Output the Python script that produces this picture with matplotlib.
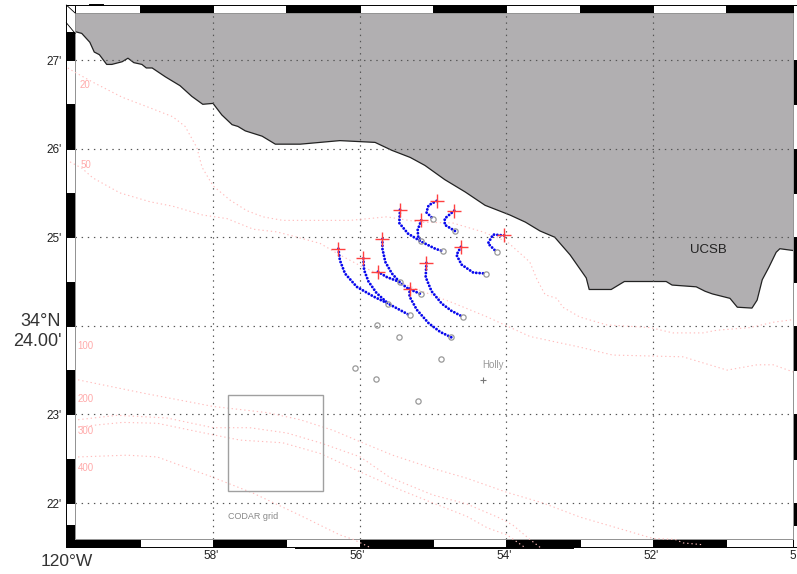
import matplotlib
matplotlib.use("Agg")
import matplotlib.pyplot as plt
from matplotlib.patches import Rectangle

plt.rcParams['font.family'] = ['Liberation Sans', 'DejaVu Sans']

# --------------------------
# DATA (lon = minutes west of 120W, lat = minutes north of 34N)
# --------------------------
coast_lon = [59.88, 59.79, 59.68, 59.62, 59.55, 59.45, 59.38, 59.24, 59.16, 59.08, 58.97, 58.91, 58.83, 58.65,
             58.45, 58.29, 58.14, 58.00, 57.88, 57.74, 57.66, 57.56, 57.33, 57.15, 56.81, 56.27, 55.79, 55.56,
             55.31, 55.11, 54.84, 54.56, 54.29, 53.95, 53.74, 53.54, 53.34, 53.13, 52.91, 52.87, 52.57, 52.39,
             51.82, 51.74, 51.41, 51.29, 51.19, 50.95, 50.85, 50.65, 50.58, 50.51, 50.42, 50.32, 50.27, 50.09]
coast_lat = [27.32, 27.30, 27.20, 27.09, 27.06, 26.95, 26.95, 26.98, 27.02, 26.97, 26.95, 26.91, 26.91, 26.81,
             26.71, 26.59, 26.50, 26.51, 26.38, 26.27, 26.25, 26.20, 26.14, 26.05, 26.05, 26.09, 26.07, 25.98,
             25.90, 25.81, 25.65, 25.51, 25.36, 25.25, 25.17, 25.07, 25.00, 24.80, 24.54, 24.41, 24.41, 24.50,
             24.50, 24.46, 24.44, 24.39, 24.36, 24.31, 24.21, 24.20, 24.29, 24.52, 24.66, 24.83, 24.87, 24.85]

iso_a_lon = [59.98, 59.88, 59.64, 59.24, 58.86, 58.55, 58.38, 58.22, 58.15, 58.00, 57.77, 57.54, 57.32, 57.05,
             56.64, 56.13, 55.63, 55.18, 54.73, 54.32, 53.99, 53.68, 53.58, 53.47, 53.31, 53.23, 53.00, 52.63,
             52.04, 51.73, 51.32, 51.13, 50.68, 50.36, 50.09]
iso_a_lat = [26.91, 26.86, 26.75, 26.58, 26.46, 26.36, 26.25, 26.01, 25.79, 25.58, 25.42, 25.30, 25.23, 25.19,
             25.19, 25.19, 25.23, 25.17, 25.16, 25.06, 24.95, 24.72, 24.52, 24.35, 24.31, 24.21, 24.10, 24.01,
             23.98, 23.92, 23.92, 23.95, 23.98, 24.04, 24.07]
iso_b_lon = [59.95, 59.79, 59.64, 59.27, 58.86, 58.55, 58.14, 57.81, 57.45, 57.13, 56.85, 56.54, 56.27, 55.95,
             55.63, 55.18, 54.73, 54.26, 53.68, 53.00, 52.55, 51.59, 50.99, 50.58, 50.36, 50.09]
iso_b_lat = [25.85, 25.78, 25.67, 25.50, 25.40, 25.35, 25.25, 25.21, 25.09, 25.06, 25.00, 24.93, 24.80, 24.66,
             24.55, 24.40, 24.26, 24.10, 23.88, 23.76, 23.67, 23.65, 23.50, 23.56, 23.56, 23.48]
iso_c_lon = [59.84, 58.95, 58.00, 57.26, 56.81, 56.36, 55.99, 55.55, 55.00, 54.54, 53.99, 53.50, 52.99, 52.41,
             52.00, 51.70, 51.59, 51.33]
iso_c_lat = [23.39, 23.24, 23.09, 23.02, 22.94, 22.82, 22.69, 22.54, 22.39, 22.28, 22.12, 22.00, 21.84, 21.70,
             21.60, 21.59, 21.55, 21.53]
iso_d_lon = [59.84, 59.31, 58.63, 58.00, 57.50, 56.99, 56.54, 55.99, 55.59, 55.00, 54.54, 54.09, 53.91, 53.68, 53.54]
iso_d_lat = [22.94, 22.99, 22.96, 22.85, 22.85, 22.79, 22.68, 22.52, 22.29, 22.09, 21.99, 21.83, 21.75, 21.59, 21.50]
iso_e_lon = [59.84, 59.23, 58.76, 58.00, 57.63, 57.05, 56.54, 55.99, 55.45, 55.00, 54.54, 54.26, 53.99, 53.75]
iso_e_lat = [22.86, 22.91, 22.90, 22.77, 22.71, 22.68, 22.56, 22.35, 22.15, 22.00, 21.85, 21.72, 21.64, 21.50]
iso_f_lon = [59.84, 59.17, 58.76, 58.00, 57.45, 56.81, 56.27, 56.09, 55.86]
iso_f_lat = [22.52, 22.54, 22.52, 22.29, 22.11, 21.86, 21.64, 21.59, 21.50]

iso_labels = ["20", "50", "100", "200", "300", "400"]
iso_label_lat = [26.72, 25.81, 23.77, 23.17, 22.81, 22.40]

# drifter tracks, first point is the release (red +), last is the gray circle
track_lons = [
    [56.29, 56.27, 56.20, 56.04, 55.81, 55.61, 55.32],
    [55.95, 55.94, 55.88, 55.77, 55.61],
    [55.69, 55.69, 55.65, 55.56, 55.45],
    [55.75, 55.63, 55.47, 55.34, 55.17],
    [55.32, 55.32, 55.22, 55.06, 54.90, 54.75],
    [55.09, 55.10, 55.02, 54.88, 54.75, 54.59],
    [55.45, 55.46, 55.34, 55.16, 54.97, 54.86],
    [55.16, 55.21, 55.20, 55.16],
    [54.95, 55.06, 55.09, 55.00],
    [54.71, 54.84, 54.84, 54.70],
    [54.62, 54.68, 54.61, 54.45, 54.28],
    [54.03, 54.18, 54.25, 54.13],
]
track_lats = [
    [24.87, 24.74, 24.59, 24.44, 24.33, 24.25, 24.12],
    [24.76, 24.63, 24.50, 24.37, 24.25],
    [24.98, 24.87, 24.72, 24.59, 24.49],
    [24.61, 24.55, 24.50, 24.42, 24.36],
    [24.42, 24.33, 24.18, 24.03, 23.93, 23.87],
    [24.71, 24.55, 24.39, 24.25, 24.17, 24.10],
    [25.31, 25.16, 25.04, 24.95, 24.87, 24.84],
    [25.19, 25.08, 24.99, 24.96],
    [25.41, 25.36, 25.28, 25.21],
    [25.30, 25.21, 25.14, 25.07],
    [24.89, 24.80, 24.69, 24.60, 24.59],
    [25.02, 25.03, 24.93, 24.83],
]

# gray circles without a track
other_lon = [55.76, 55.46, 54.89, 56.07, 55.78, 55.20]
other_lat = [24.01, 23.87, 23.63, 23.52, 23.40, 23.15]

lon_ticks = [58, 56, 54, 52]
lon_tick_labels = ["58'", "56'", "54'", "52'"]
lat_ticks = [27, 26, 25, 23, 22]
lat_tick_labels = ["27'", "26'", "25'", "23'", "22'"]

bottom_black = [(60, 59), (58, 57), (56, 55), (54, 53), (52, 51)]
top_black = [(59, 58), (57, 56), (55, 54), (53, 52), (51, 50.09)]
left_black = [(21.5, 21.75), (22, 22.5), (23, 23.5), (24, 24.5), (25, 25.5), (26, 26.5), (27, 27.32)]
right_black = [(21.75, 22), (22.5, 23), (23.5, 24), (24.5, 25), (25.5, 26), (26.5, 27)]

# --------------------------
# MAP LIMITS
# --------------------------
W, E = 59.88, 50.09
S, N = 21.59, 27.53
OUT_W, OUT_E = 60.0, 49.9
OUT_S, OUT_N = 21.50, 27.62

fig = plt.figure(figsize=(7.97, 5.74), dpi=100)
ax = fig.add_axes([0, 0, 1, 1])
ax.set_xlim(60.905, 50.036)
ax.set_ylim(21.199, 27.677)
ax.axis("off")

# --------------------------
# LAND
# --------------------------
ax.fill(coast_lon + [E, W], coast_lat + [N, N], color="#b1afb1", lw=0, zorder=1)
ax.plot(coast_lon, coast_lat, color="#222222", lw=0.9, zorder=2)

# --------------------------
# GRID
# --------------------------
for lon in lon_ticks:
    ax.plot([lon, lon], [S, N], color="#555555", lw=0.85, ls=(0, (1.2, 4.0)), zorder=3)
for lat in [27, 26, 25, 24, 23, 22]:
    ax.plot([W, E], [lat, lat], color="#555555", lw=0.85, ls=(0, (1.2, 4.0)), zorder=3)

# --------------------------
# FRAME
# --------------------------
def box(x0, x1, y0, y1, color, z=5):
    ax.add_patch(Rectangle((x0, y0), x1 - x0, y1 - y0, facecolor=color, edgecolor="black", lw=0.7, zorder=z))

box(OUT_W, OUT_E, OUT_S, S, "white")
box(OUT_W, OUT_E, N, OUT_N, "white")
box(OUT_W, W, OUT_S, OUT_N, "white")
box(E, OUT_E, OUT_S, OUT_N, "white")
for a, b in bottom_black:
    box(a, b, OUT_S, S, "black", 6)
for a, b in top_black:
    box(a, b, N, OUT_N, "black", 6)
for a, b in left_black:
    box(OUT_W, W, a, b, "black", 6)
for a, b in right_black:
    box(E, OUT_E, a, b, "black", 6)
ax.plot([W, W, E, E, W], [S, N, N, S, S], color="#999999", lw=0.7, zorder=7)
ax.plot([OUT_W, W], [OUT_N, N], color="black", lw=0.6, zorder=7)
ax.plot([OUT_W, W], [27.42, 27.30], color="black", lw=0.6, zorder=7)
ax.plot([59.68, 59.50], [OUT_N, OUT_N], color="black", lw=1.4, zorder=7)
ax.plot([56.88, 53.09], [21.49, 21.49], color="black", lw=0.7, zorder=7)

# --------------------------
# ISOBATHS
# --------------------------
iso_lines = [(iso_a_lon, iso_a_lat), (iso_b_lon, iso_b_lat), (iso_c_lon, iso_c_lat),
             (iso_d_lon, iso_d_lat), (iso_e_lon, iso_e_lat), (iso_f_lon, iso_f_lat)]
for lons, lats in iso_lines:
    ax.plot(lons, lats, color="#ffbcbc", lw=0.8, ls=(0, (1.2, 2.6)), zorder=8)
for txt, lat in zip(iso_labels, iso_label_lat):
    ax.text(59.74, lat, txt, color="#ffaaaa", fontsize=7, ha="center", va="center", zorder=8)

# --------------------------
# TRACKS
# --------------------------
for lons, lats in zip(track_lons, track_lats):
    ax.plot(lons, lats, color="#0808ee", lw=2.1, ls=(0, (0.01, 1.15)), dash_capstyle="round", zorder=10)
    ax.plot(lons[-1], lats[-1], "o", mfc="none", mec="#999999", mew=0.9, ms=3.8, zorder=11)
for lons, lats in zip(track_lons, track_lats):
    ax.plot(lons[0], lats[0], "+", color="#ff4040", mew=1.0, ms=9.5, zorder=12)
ax.plot(other_lon, other_lat, "o", mfc="none", mec="#999999", mew=0.9, ms=3.8, ls="none", zorder=9)

# --------------------------
# TEXT
# --------------------------
ax.plot(54.32, 23.39, "+", color="#777777", mew=0.8, ms=4, zorder=9)
ax.text(54.18, 23.56, "Holly", color="#999999", fontsize=7, ha="center", va="center", zorder=9)
ax.text(51.25, 24.86, "UCSB", color="#222222", fontsize=9.5, ha="center", va="center", zorder=9)

ax.add_patch(Rectangle((57.80, 22.14), 56.50 - 57.80, 23.22 - 22.14, fill=False, edgecolor="#a0a0a0", lw=1.0, zorder=9))
ax.text(57.80, 21.85, "CODAR grid", color="#888888", fontsize=6.5, ha="left", va="center", zorder=9)

for lat, txt in zip(lat_ticks, lat_tick_labels):
    ax.text(60.07, lat - 0.02, txt, color="#222222", fontsize=8.5, ha="right", va="center")
for lon, txt in zip(lon_ticks, lon_tick_labels):
    ax.text(lon + 0.03, 21.40, txt, color="#222222", fontsize=8.5, ha="center", va="center")
ax.text(50.05, 21.40, "5", color="#222222", fontsize=8.5, ha="right", va="center")

ax.text(60.07, 24.05, "34°N", color="#333333", fontsize=13, ha="right", va="center")
ax.text(60.07, 23.82, "24.00'", color="#333333", fontsize=13, ha="right", va="center")
ax.text(60.0, 21.34, "120°W", color="#333333", fontsize=12.5, ha="center", va="center")

plt.savefig("out.png", dpi=100)
plt.close()
